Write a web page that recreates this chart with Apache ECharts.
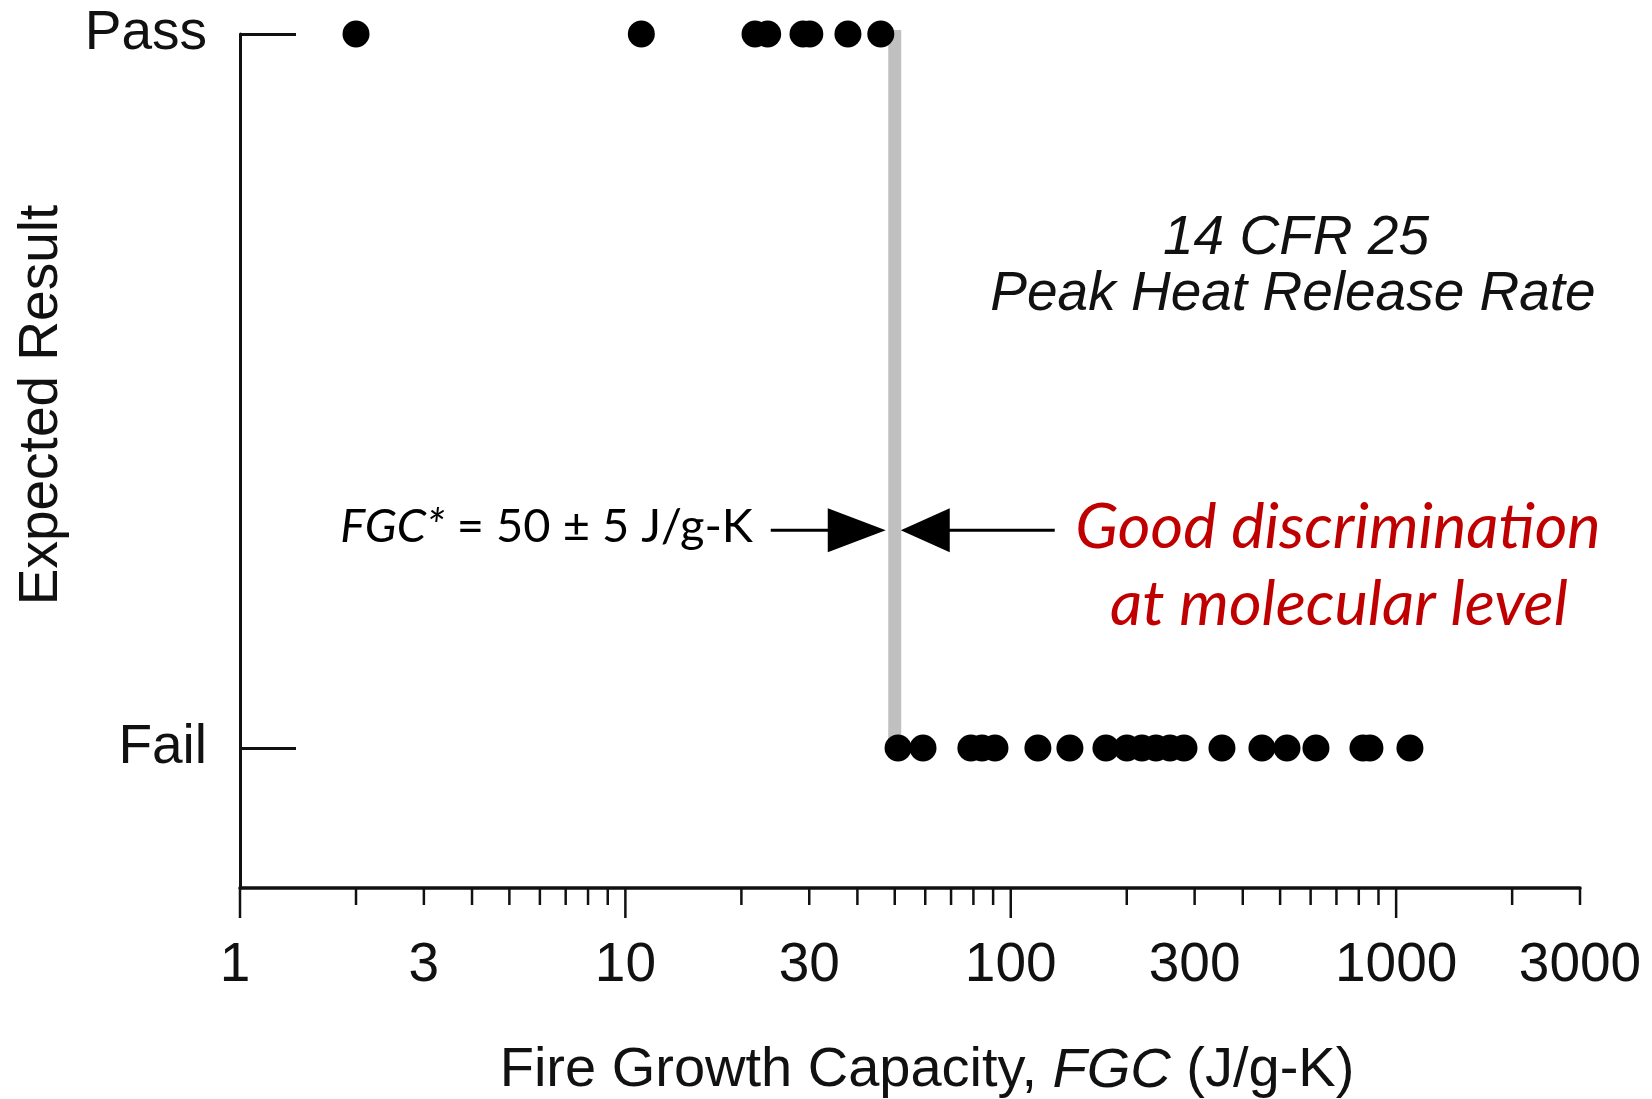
<!DOCTYPE html>
<html><head><meta charset="utf-8">
<script src="https://cdn.jsdelivr.net/npm/echarts@6/dist/echarts.min.js"></script>
<style>html,body{margin:0;padding:0;background:#fff}#c{width:1652px;height:1099px}</style>
</head><body><div id="c"></div>
<script>
// ---- data ----
const passValues = [2.0, 11.0, 21.7, 23.4, 28.9, 30.1, 37.8, 46.0];
const failValues = [51.0, 59.2, 78.8, 84.2, 91.0, 117.6, 142.4, 176.6, 200.2, 219.0, 238.2, 258.9, 281.5, 353.2, 448.5, 520.9, 619.4, 820.2, 855.1, 1086];
const thresholdFGC = 50;
const majorTicks = [1, 10, 100, 1000];
const minorTicks = [2, 3, 4, 5, 6, 7, 8, 9, 20, 30, 40, 50, 60, 70, 80, 90, 200, 300, 400, 500, 600, 700, 800, 900, 2000, 3000];
const tickLabels = [1, 3, 10, 30, 100, 300, 1000, 3000];
const yLevels = [0, 1];
const yNames = ['Fail', 'Pass'];
const xMin = 1, xMax = 3000, yMin = -0.196, yMax = 1;
const arrowLevel = 0.305;

const HELV = '"Liberation Sans", Arial, Helvetica, sans-serif';
const INK = '#111';

function tickSeries(values, len) {
  return {
    type: 'custom', silent: true, clip: false, z: 5,
    data: values.map(v => [v]),
    encode: { x: 0 },
    renderItem(params, api) {
      const p = api.coord([api.value(0), yMin]);
      return { type: 'line', shape: { x1: p[0], y1: p[1], x2: p[0], y2: p[1] + len },
        style: { stroke: INK, lineWidth: 2.5 } };
    }
  };
}

const chart = echarts.init(document.getElementById('c'));
chart.setOption({
  backgroundColor: '#fff',
  animation: false,
  grid: { left: 240, right: 72, top: 34, bottom: 211 },
  xAxis: {
    type: 'log', logBase: 10, min: xMin, max: xMax,
    axisLine: { show: true, onZero: false, lineStyle: { color: INK, width: 3.5 } },
    axisTick: { show: false }, axisLabel: { show: false }, splitLine: { show: false }, minorTick: { show: false }
  },
  yAxis: {
    type: 'value', min: yMin, max: yMax,
    axisLine: { show: true, lineStyle: { color: INK, width: 3 } },
    axisTick: { show: true, inside: true, length: 56, customValues: yLevels, lineStyle: { color: INK, width: 3 } },
    axisLabel: { show: true, customValues: yLevels, margin: 33, color: INK, fontSize: 55, fontFamily: HELV,
      formatter: v => yNames[yLevels.indexOf(Math.round(v))] },
    splitLine: { show: false }
  },
  series: [
    { // threshold line
      type: 'custom', silent: true, z: 1,
      data: [[thresholdFGC]], encode: { x: 0 },
      renderItem(params, api) {
        const a = api.coord([api.value(0), 1]);
        const b = api.coord([api.value(0), 0]);
        return { type: 'line', shape: { x1: a[0], y1: a[1] - 4, x2: b[0], y2: b[1] },
          style: { stroke: '#c0c0c0', lineWidth: 13 } };
      }
    },
    { type: 'scatter', name: 'Pass', symbol: 'circle', symbolSize: 27, z: 3,
      itemStyle: { color: '#000', opacity: 1 }, data: passValues.map(v => [v, 1]) },
    { type: 'scatter', name: 'Fail', symbol: 'circle', symbolSize: 27, z: 3,
      itemStyle: { color: '#000', opacity: 1 }, data: failValues.map(v => [v, 0]) },
    tickSeries(majorTicks, 30),
    tickSeries(minorTicks, 17),
    { // x tick labels
      type: 'custom', silent: true, clip: false, z: 5,
      data: tickLabels.map(v => [v]), encode: { x: 0 },
      renderItem(params, api) {
        const v = api.value(0);
        const p = api.coord([v, yMin]);
        return { type: 'text', x: p[0] - (v === 1 ? 5 : 0), y: p[1] + 78,
          style: { text: String(v), align: 'center', verticalAlign: 'middle',
            fontSize: 55, fontFamily: HELV, fill: INK } };
      }
    },
    { // arrows pointing at threshold
      type: 'custom', silent: true, clip: false, z: 6,
      data: [[thresholdFGC, arrowLevel]], encode: { x: 0, y: 1 },
      renderItem(params, api) {
        const t = api.coord([api.value(0), api.value(1)]);
        const x = t[0], y = t[1], h = 44;
        return { type: 'group', children: [
          { type: 'polygon', shape: { points: [[x - 9, y], [x - 67, y - h / 2], [x - 67, y + h / 2]] }, style: { fill: '#000' } },
          { type: 'line', shape: { x1: x - 124, y1: y, x2: x - 65, y2: y }, style: { stroke: '#000', lineWidth: 3 } },
          { type: 'polygon', shape: { points: [[x + 6, y], [x + 55, y - h / 2], [x + 55, y + h / 2]] }, style: { fill: '#000' } },
          { type: 'line', shape: { x1: x + 53, y1: y, x2: x + 160, y2: y }, style: { stroke: '#000', lineWidth: 3 } }
        ] };
      }
    }
  ],
  graphic: [
    { type: 'text', x: 42, y: 405, rotation: Math.PI / 2,
      style: { text: 'Expected Result', align: 'center', verticalAlign: 'middle', fontSize: 55, fontFamily: HELV, fill: INK } },
    { type: 'text', x: 927, y: 1071,
      style: { text: 'Fire Growth Capacity, {i|FGC} (J/g-K)', align: 'center', verticalAlign: 'middle',
        fontSize: 56, fontFamily: HELV, fill: INK,
        rich: { i: { fontSize: 56, fontFamily: HELV, fontStyle: 'italic', fill: INK } } } },
    { type: 'text', x: 1296, y: 239,
      style: { text: '14 CFR 25', align: 'center', verticalAlign: 'middle', fontSize: 55, fontFamily: HELV, fontStyle: 'italic', fill: INK } },
    { type: 'text', x: 1293, y: 295,
      style: { text: 'Peak Heat Release Rate', align: 'center', verticalAlign: 'middle', fontSize: 55, fontFamily: HELV, fontStyle: 'italic', fill: INK } },
    { type: 'text', x: 753, y: 527,
      style: { text: '{i|FGC*} = 50 ± 5 J/g-K', align: 'right', verticalAlign: 'middle',
        fontSize: 47, fontFamily: 'Lato', fill: '#000',
        rich: { i: { fontSize: 47, fontFamily: 'Lato', fontStyle: 'italic', fill: '#000' } } } },
    { type: 'text', x: 1338, y: 528,
      style: { text: 'Good discrimination', align: 'center', verticalAlign: 'middle', fontSize: 63, fontFamily: 'Lato', fontStyle: 'italic', fill: '#c00000' } },
    { type: 'text', x: 1339, y: 605,
      style: { text: 'at molecular level', align: 'center', verticalAlign: 'middle', fontSize: 63, fontFamily: 'Lato', fontStyle: 'italic', fill: '#c00000' } }
  ]
});
</script></body></html>
